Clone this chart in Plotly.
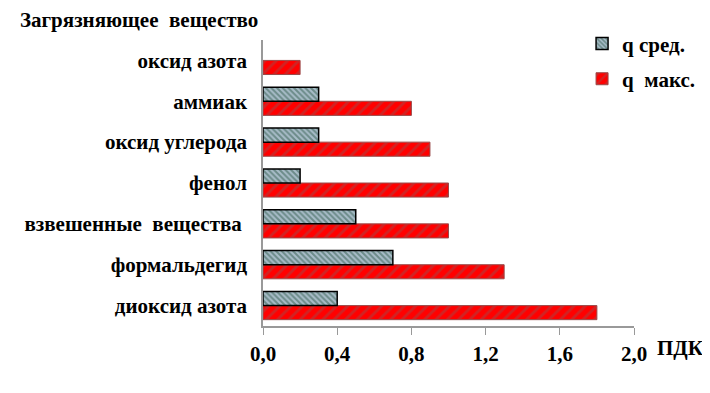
import plotly.graph_objects as go

categories = ["диоксид азота", "формальдегид", "взвешенные  вещества ", "фенол",
              "оксид углерода", "аммиак", "оксид азота"]
q_avg = [0.4, 0.7, 0.5, 0.2, 0.3, 0.3, None]
q_max = [1.8, 1.3, 1.0, 1.0, 0.9, 0.8, 0.2]
x_ticks = [0.0, 0.4, 0.8, 1.2, 1.6, 2.0]
x_ticklabels = ["0,0", "0,4", "0,8", "1,2", "1,6", "2,0"]

FONT = "Liberation Serif, Times New Roman, serif"
FS = 21

fig = go.Figure()
fig.add_trace(go.Bar(
    y=categories, x=q_max, orientation="h", name="q  макс.",
    marker=dict(color="#ff0000", line=dict(color="#9a4a4a", width=1),
                pattern=dict(shape="/", fgcolor="#a04848", bgcolor="#ff0000",
                             size=8, solidity=0.35)),
    legend="legend2",
))
fig.add_trace(go.Bar(
    y=categories, x=q_avg, orientation="h", name="q сред.",
    marker=dict(color="#a8bcc8", line=dict(color="#000000", width=1.5),
                pattern=dict(shape="\\", fgcolor="#2f5a4a", bgcolor="#a8bcc8",
                             size=4, solidity=0.5)),
    legend="legend",
))

fig.update_layout(
    width=702, height=385,
    margin=dict(l=255, r=76, t=32, b=67, autoexpand=False),
    paper_bgcolor="white", plot_bgcolor="white",
    barmode="group", bargap=0.31, bargroupgap=0,
    font=dict(family=FONT, size=FS, color="black"),
    showlegend=True,
    legend=dict(x=0.86, y=1.058, xanchor="left", yanchor="top",
                font=dict(family=FONT, size=FS, color="black", weight="bold"),
                bgcolor="rgba(0,0,0,0)", itemwidth=30),
    legend2=dict(x=0.86, y=0.935, xanchor="left", yanchor="top",
                 font=dict(family=FONT, size=FS, color="black", weight="bold"),
                 bgcolor="rgba(0,0,0,0)", itemwidth=30),
    xaxis=dict(range=[0, 2.0], tickvals=x_ticks, ticktext=x_ticklabels, automargin=False,
               showgrid=False, zeroline=False, showline=True, linecolor="#999999",
               linewidth=1.5, ticks="outside", ticklen=7, tickcolor="#999999",
               tickfont=dict(family=FONT, size=FS, color="black", weight="bold"),
               ticklabelstandoff=1),
    yaxis=dict(categoryorder="array", categoryarray=categories, automargin=False,
               showgrid=False, zeroline=False, showline=True, linecolor="#999999",
               linewidth=1.5, ticks="", ticklabelstandoff=10,
               tickfont=dict(family=FONT, size=FS, color="black", weight="bold")),
    annotations=[
        dict(text="Загрязняющее  вещество", xref="paper", yref="paper",
             x=-0.66, y=1.07, xanchor="left", yanchor="middle", showarrow=False,
             font=dict(family=FONT, size=FS, color="black", weight="bold")),
        dict(text="ПДК", xref="paper", yref="paper", x=1.124, y=-0.077, xanchor="center",
             yanchor="middle", showarrow=False,
             font=dict(family=FONT, size=FS, color="black", weight="bold")),
    ],
)

fig.write_html("out.html")
